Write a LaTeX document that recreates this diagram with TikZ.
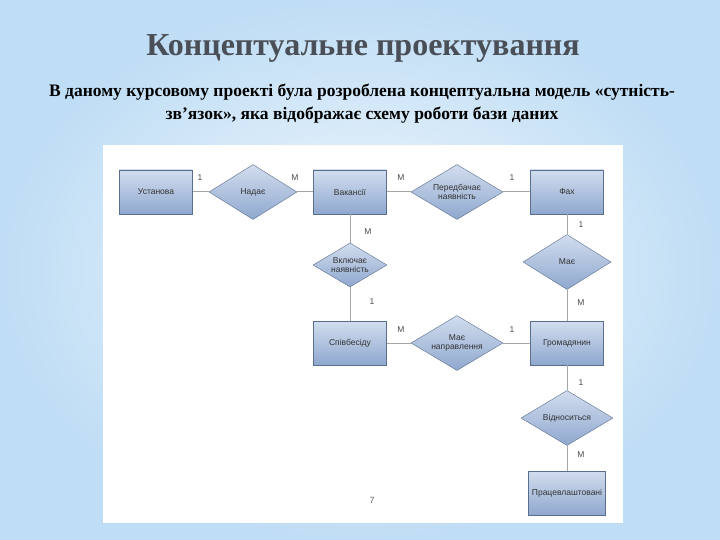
\documentclass[tikz,border=0pt]{standalone}
\usepackage{fontspec}
\setmainfont{Liberation Serif}
\newfontfamily\dsans{Liberation Sans}
\usetikzlibrary{shapes.geometric}
\definecolor{bgA}{HTML}{BFDDF5}
\definecolor{bgB}{HTML}{F4F9FD}
\definecolor{boxtop}{HTML}{D2DDEE}
\definecolor{boxbot}{HTML}{8FA8CF}
\definecolor{boxline}{HTML}{5A6E8E}
\definecolor{titlec}{HTML}{4A4F57}
\tikzset{
 ent/.style={draw=boxline, top color=boxtop, bottom color=boxbot, minimum width=73pt, minimum height=44pt, font=\dsans\fontsize{8.5}{9.5}\selectfont, text=black!80},
 rel/.style={diamond, aspect=1.6, draw=boxline, top color=boxtop, bottom color=boxbot, inner sep=0pt, font=\dsans\fontsize{8.5}{9.5}\selectfont, align=center, text=black!80},
 lnk/.style={draw=gray!70, line width=1pt},
 card/.style={font=\dsans\fontsize{8.5}{9.5}\selectfont, text=black!70}
}
\begin{document}
\begin{tikzpicture}[x=1pt,y=-1pt]
\useasboundingbox (0,0) rectangle (720,540);
\shade[inner color=bgB, outer color=bgA] (0,0) rectangle (720,540);
\node[font=\bfseries\fontsize{32}{36}\selectfont, text=titlec] (title) at (363,48) {Концептуальне проектування};
\node[font=\bfseries\fontsize{17.5}{23}\selectfont, align=center] (sub) at (362,104) {В даному курсовому проекті була розроблена концептуальна модель «сутність-\\зв’язок», яка відображає схему роботи бази даних};
\fill[white] (103,145) rectangle (623,523);
\node[ent] (ust) at (156,192) {Установа};
\node[ent] (vak) at (350,192) {Вакансії};
\node[ent] (fah) at (567,192) {Фах};
\node[ent] (spiv) at (350,343) {Співбесіду};
\node[ent] (grom) at (567,343) {Громадянин};
\node[ent] (prac) at (567,493) {Працевлаштовані};
\node[rel, minimum width=88pt, minimum height=55pt] (nad) at (253,192) {Надає};
\node[rel, minimum width=92pt, minimum height=55pt] (per) at (457,192) {Передбачає\\наявність};
\node[rel, minimum width=74pt, minimum height=44pt] (vkl) at (350,265) {Включає\\наявність};
\node[rel, minimum width=88pt, minimum height=55pt] (maie) at (567,262) {Має};
\node[rel, minimum width=92pt, minimum height=55pt] (napr) at (457,343) {Має\\направлення};
\node[rel, minimum width=92pt, minimum height=55pt] (vidn) at (567,418) {Відноситься};
\draw[lnk] (ust) -- (nad); \draw[lnk] (nad) -- (vak);
\draw[lnk] (vak) -- (per); \draw[lnk] (per) -- (fah);
\draw[lnk] (vak) -- (vkl); \draw[lnk] (vkl) -- (spiv);
\draw[lnk] (fah) -- (maie); \draw[lnk] (maie) -- (grom);
\draw[lnk] (spiv) -- (napr); \draw[lnk] (napr) -- (grom);
\draw[lnk] (grom) -- (vidn); \draw[lnk] (vidn) -- (prac);
\node[card] (c1) at (200,178) {1};
\node[card] (c2) at (295,178) {M};
\node[card] (c3) at (401,178) {M};
\node[card] (c4) at (512,178) {1};
\node[card] (c5) at (368,232) {M};
\node[card] (c6) at (372,302) {1};
\node[card] (c7) at (581,225) {1};
\node[card] (c8) at (581,303) {M};
\node[card] (c9) at (401,330) {M};
\node[card] (c10) at (512,330) {1};
\node[card] (c11) at (581,383) {1};
\node[card] (c12) at (581,455) {M};
\node[font=\dsans\fontsize{9}{10}\selectfont, text=black!60] (pg) at (372,500) {7};
\end{tikzpicture}
\end{document}
